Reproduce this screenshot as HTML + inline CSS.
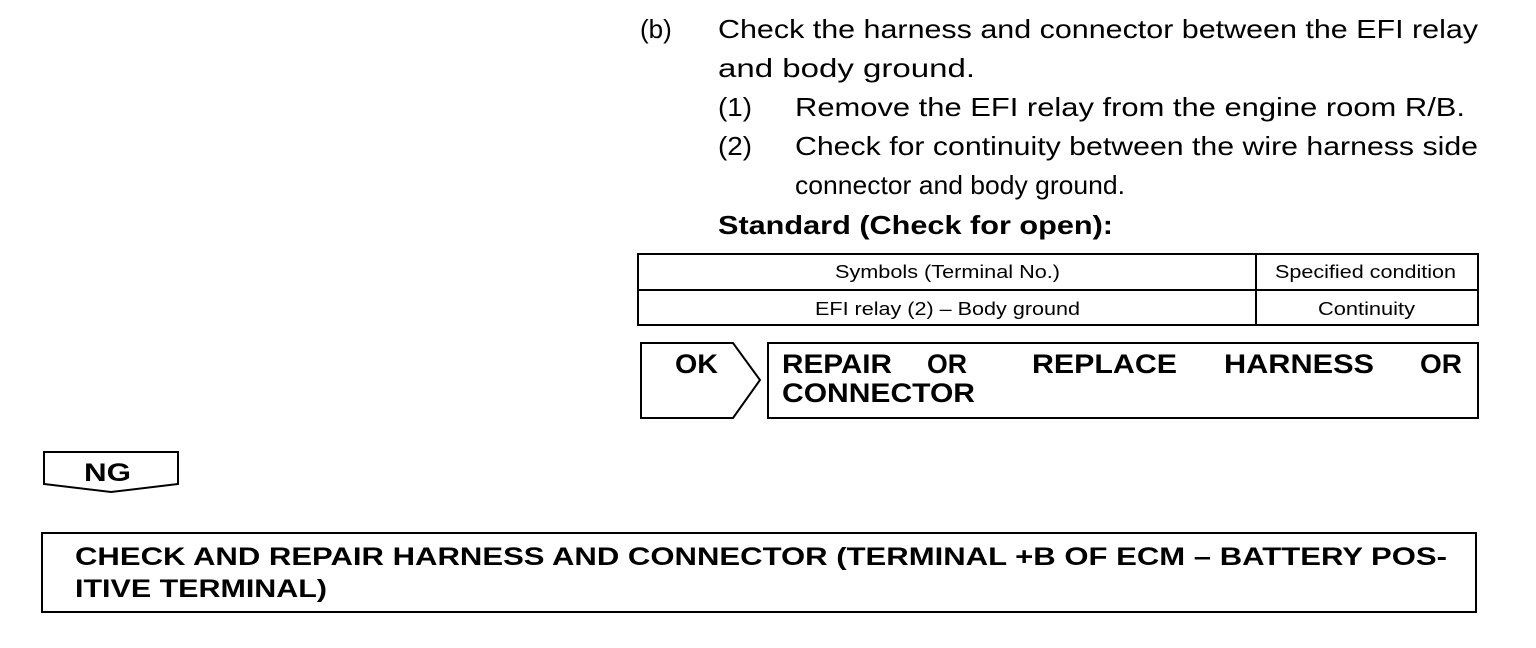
<!DOCTYPE html>
<html><head><meta charset="utf-8"><style>html,body{margin:0;padding:0;background:#fff}svg{display:block}</style></head>
<body>
<svg width="1536" height="648" viewBox="0 0 1536 648" xmlns="http://www.w3.org/2000/svg" font-family="Liberation Sans, Arial, sans-serif" fill="#000">
<g font-size="26">
<text x="640" y="38">(b)</text>
<text x="718" y="38" textLength="760" lengthAdjust="spacingAndGlyphs">Check the harness and connector between the EFI relay</text>
<text x="718" y="77" textLength="257" lengthAdjust="spacingAndGlyphs">and body ground.</text>
<text x="718" y="116" textLength="34" lengthAdjust="spacingAndGlyphs">(1)</text>
<text x="795" y="116" textLength="670" lengthAdjust="spacingAndGlyphs">Remove the EFI relay from the engine room R/B.</text>
<text x="718" y="155" textLength="34" lengthAdjust="spacingAndGlyphs">(2)</text>
<text x="795" y="155" textLength="683" lengthAdjust="spacingAndGlyphs">Check for continuity between the wire harness side</text>
<text x="795" y="194" textLength="330" lengthAdjust="spacingAndGlyphs">connector and body ground.</text>
<text x="718" y="234" font-weight="bold" textLength="395" lengthAdjust="spacingAndGlyphs">Standard (Check for open):</text>
</g>
<g fill="none" stroke="#000" stroke-width="2">
<rect x="638" y="254" width="840" height="71"/>
<line x1="638" y1="290" x2="1478" y2="290"/>
<line x1="1256" y1="254" x2="1256" y2="325"/>
<polygon points="641,343 733,343 760,380 733,418 641,418"/>
<rect x="768" y="343" width="710" height="75"/>
<polygon points="44,452 178,452 178,484 111,492 44,484"/>
<rect x="42" y="533" width="1434" height="79"/>
</g>
<g font-size="18">
<text x="835" y="278" textLength="225" lengthAdjust="spacingAndGlyphs">Symbols (Terminal No.)</text>
<text x="1275" y="278" textLength="181" lengthAdjust="spacingAndGlyphs">Specified condition</text>
<text x="815" y="315" textLength="265" lengthAdjust="spacingAndGlyphs">EFI relay (2) – Body ground</text>
<text x="1318" y="315" textLength="97" lengthAdjust="spacingAndGlyphs">Continuity</text>
</g>
<g font-size="27" font-weight="bold">
<text x="675" y="373" textLength="43" lengthAdjust="spacingAndGlyphs">OK</text>
<text x="782" y="373" textLength="110" lengthAdjust="spacingAndGlyphs">REPAIR</text>
<text x="927" y="373" textLength="40" lengthAdjust="spacingAndGlyphs">OR</text>
<text x="1032" y="373" textLength="145" lengthAdjust="spacingAndGlyphs">REPLACE</text>
<text x="1224" y="373" textLength="150" lengthAdjust="spacingAndGlyphs">HARNESS</text>
<text x="1420" y="373" textLength="42" lengthAdjust="spacingAndGlyphs">OR</text>
<text x="782" y="402" textLength="193" lengthAdjust="spacingAndGlyphs">CONNECTOR</text>
</g>
<g font-size="25" font-weight="bold">
<text x="84" y="481" textLength="47" lengthAdjust="spacingAndGlyphs">NG</text>
<text x="75" y="565" textLength="1372" lengthAdjust="spacingAndGlyphs">CHECK AND REPAIR HARNESS AND CONNECTOR (TERMINAL +B OF ECM – BATTERY POS-</text>
<text x="75" y="597" textLength="252" lengthAdjust="spacingAndGlyphs">ITIVE TERMINAL)</text>
</g>
</svg>
</body></html>
